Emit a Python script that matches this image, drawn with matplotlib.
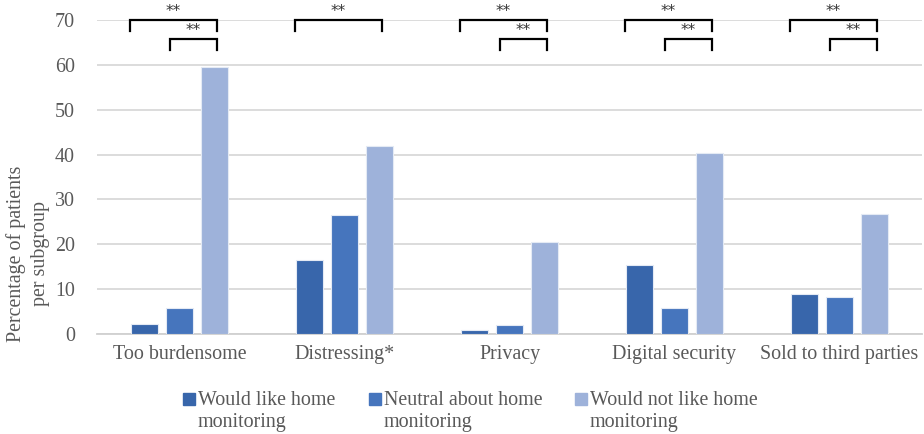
import matplotlib
matplotlib.use("Agg")
import matplotlib.pyplot as plt
from matplotlib.patches import Rectangle
import numpy as np

plt.rcParams['font.family'] = ['Liberation Serif', 'DejaVu Serif']

categories = ["Too burdensome", "Distressing*", "Privacy", "Digital security", "Sold to third parties"]
series_names = ["Would like home\nmonitoring", "Neutral about home\nmonitoring", "Would not like home\nmonitoring"]
would_like = [2.3, 16.5, 1.0, 15.4, 8.9]
neutral = [5.8, 26.5, 2.0, 5.8, 8.2]
would_not = [59.5, 41.8, 20.4, 40.4, 26.7]
# significance marks per category: (from bar, to bar, label)
significance = [
    [(0, 2, "**"), (1, 2, "**")],
    [(0, 2, "**")],
    [(0, 2, "**"), (1, 2, "**")],
    [(0, 2, "**"), (1, 2, "**")],
    [(0, 2, "**"), (1, 2, "**")],
]
yticks = [0, 10, 20, 30, 40, 50, 60, 70]

colors = ["#3866AB", "#4675BD", "#9EB2DA"]
text_color = "#595959"
fs = 14.4

W, H = 924, 434
fig = plt.figure(figsize=(W / 100, H / 100), dpi=100)
ax = fig.add_axes([97 / W, 1 - 334 / H, 825 / W, 314 / H])

x = np.arange(len(categories))
width = 0.164
step = 0.214
for i, (vals, col) in enumerate(zip([would_like, neutral, would_not], colors)):
    ax.bar(x + (i - 1) * step, vals, width, color=col, edgecolor="#E4EAF4",
           linewidth=0.8, zorder=3)

ax.set_xlim(-0.5, len(categories) - 0.5)
ax.set_ylim(0, 70)
ax.set_yticks(yticks)
ax.yaxis.grid(True, color="#D9D9D9", linewidth=1.3, zorder=0)
ax.set_axisbelow(True)
for s in ["top", "right", "left"]:
    ax.spines[s].set_visible(False)
ax.spines["bottom"].set_color("#D0D0D0")
ax.spines["bottom"].set_linewidth(1.3)
ax.tick_params(axis="both", length=0, labelsize=fs, colors=text_color)
ax.tick_params(axis="y", pad=16)
ax.tick_params(axis="x", pad=8)
ax.set_xticks(x)
ax.set_xticklabels(categories)

fig.text(16 / W, 180 / H, "Percentage of patients", rotation=90, ha="center", va="center",
         fontsize=fs, color=text_color)
fig.text(40 / W, 180 / H, "per subgroup", rotation=90, ha="center", va="center",
         fontsize=fs, color=text_color)

# significance brackets above the bars
left_off = {0: -0.30, 1: -0.055}
right_off = 0.225
levels = {0: (70.0, 67.6, 71.9), 1: (65.8, 63.3, 67.6)}
for ci, marks in enumerate(significance):
    for a, b_, lab in marks:
        top, leg, ty = levels[a]
        xl = ci + left_off[a]
        xr = ci + right_off
        ax.plot([xl, xl, xr, xr], [leg, top, top, leg], color="black", lw=1.6,
                clip_on=False, zorder=5, solid_joinstyle="miter")
        ax.text((xl + xr) / 2, ty, lab, ha="center", va="center", fontsize=11,
                color="#333333", family="DejaVu Sans")

# legend below the plot: square key beside the first line of each two-line label
legend_x = [183, 369, 575]
for name, col, lx in zip(series_names, colors, legend_x):
    fig.add_artist(Rectangle((lx / W, 1 - 405 / H), 12 / W, 12 / H, color=col,
                             transform=fig.transFigure))
    for k, line in enumerate(name.split("\n")):
        fig.text((lx + 15) / W, 1 - (405 + 22 * k) / H, line, ha="left", va="baseline",
                 fontsize=fs, color=text_color)

fig.savefig("out.png", dpi=100)
